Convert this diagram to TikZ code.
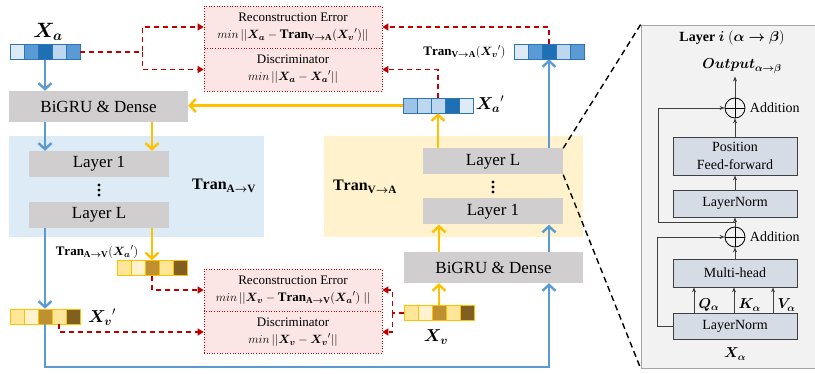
\documentclass[tikz,border=0pt]{standalone}
\usepackage{amsmath,bm}
\usepackage{fontspec}
\setmainfont{Liberation Serif}
\usetikzlibrary{arrows.meta,positioning,calc}
\definecolor{bluereg}{HTML}{DDEBF7}
\definecolor{yelreg}{HTML}{FFF2CC}
\definecolor{boxgrey}{HTML}{D0CECE}
\definecolor{arrblue}{HTML}{5B9BD5}
\definecolor{arryel}{HTML}{FFC000}
\definecolor{errred}{HTML}{C00000}
\definecolor{errpink}{HTML}{FBE5E5}
\definecolor{bA}{HTML}{DEEBF7}
\definecolor{bB}{HTML}{BDD7EE}
\definecolor{bC}{HTML}{9DC3E6}
\definecolor{bD}{HTML}{5B9BD5}
\definecolor{bE}{HTML}{1F6FB5}
\definecolor{bedge}{HTML}{2E75B6}
\definecolor{yA}{HTML}{FFF2CC}
\definecolor{yB}{HTML}{FFE699}
\definecolor{yC}{HTML}{BF9030}
\definecolor{yD}{HTML}{7F6020}
\definecolor{yedge}{HTML}{FFC000}
\definecolor{panelfill}{HTML}{F2F2F2}
\definecolor{panelgrey}{HTML}{A6A6A6}
\definecolor{unitfill}{HTML}{D6DCE5}
\definecolor{unitedge}{HTML}{404040}
\newcommand{\Xa}{\bm{X}_{\bm{a}}}
\newcommand{\Xv}{\bm{X}_{\bm{v}}}
\newcommand{\TrVA}{\mathbf{Tran}_{\mathbf{V}\bm{\rightarrow}\mathbf{A}}}
\newcommand{\TrAV}{\mathbf{Tran}_{\mathbf{A}\bm{\rightarrow}\mathbf{V}}}
\tikzset{bigru/.style={fill=boxgrey,minimum width=179,minimum height=31,inner sep=0pt,font=\fontsize{17}{20}\selectfont},
 layer/.style={fill=boxgrey,minimum width=140,minimum height=26,inner sep=0pt,font=\fontsize{17}{20}\selectfont},
 region/.style={inner sep=0pt},
 errbox/.style={draw=errred,dotted,line width=0.6pt,fill=errpink,minimum width=178,inner sep=0pt,align=center,font=\fontsize{13}{17}\selectfont},
 bcell/.style={draw=bedge,line width=0.6pt,minimum width=14,minimum height=15,inner sep=0pt},
 ycell/.style={draw=yedge,line width=0.6pt,minimum width=14,minimum height=15,inner sep=0pt},
 bluearrow/.style={draw=arrblue,line width=2.4pt,-{Straight Barb[length=6pt,width=13pt]}},
 yelarrow/.style={draw=arryel,line width=2.4pt,-{Straight Barb[length=6pt,width=13pt]}},
 redarrow/.style={draw=errred,line width=1.3pt,dash pattern=on 5pt off 4pt,-{Triangle[length=6pt,width=7pt]}},
 zoomline/.style={draw=black,line width=1.4pt,dash pattern=on 6pt off 4pt},
 panel/.style={draw=panelgrey,line width=0.8pt,fill=panelfill,minimum width=181,minimum height=343,inner sep=0pt},
 unit/.style={draw=unitedge,line width=0.8pt,fill=unitfill,minimum width=124,inner sep=0pt,align=center,font=\fontsize{14}{18}\selectfont},
 addnode/.style={circle,draw=black,line width=0.8pt,minimum size=20,inner sep=0pt},
 flow/.style={draw=black!75,line width=0.7pt,-{Stealth[length=5pt,width=4pt]}},
 lbl/.style={font=\fontsize{14}{17}\selectfont}}
\begin{document}
\begin{tikzpicture}[x=1pt,y=-1pt]
\useasboundingbox (0,0) rectangle (815,374);
\node[region,fill=bluereg,minimum width=255,minimum height=101] (regA) at (136.5,186.5) {};
\node[region,fill=yelreg,minimum width=259,minimum height=101] (regV) at (453.5,186.5) {};
\node[panel] (panel) at (731.5,196.5) {};

\node[bigru] (bgA) at (98.5,106.5) {BiGRU \& Dense};
\node[layer] (l1A) at (99,164) {Layer 1};
\coordinate (dA) at (99,190);
\node[layer] (lLA) at (99,215) {Layer L};
\node[font=\fontsize{16}{19}\selectfont] (tAV) at (224,186) {$\TrAV$};

\node[layer] (lLV) at (493,161.5) {Layer L};
\coordinate (dV) at (493,187);
\node[layer] (l1V) at (493,211.5) {Layer 1};
\node[font=\fontsize{16}{19}\selectfont] (tVA) at (365,187) {$\TrVA$};
\node[bigru] (bgV) at (493.5,267.5) {BiGRU \& Dense};
\foreach \dy in {-5,0,5} {
  \fill ([yshift=\dy]dA) circle (1.7);
  \fill ([yshift=\dy]dV) circle (1.7);
}

\node[errbox,minimum height=42] (errA) at (293,27) {Reconstruction Error\\$min\,||\Xa - \TrVA({\Xv}')||$};
\node[errbox,minimum height=43] (discA) at (293,69.5) {Discriminator\\$min\,||\Xa - {\Xa}'||$};
\node[errbox,minimum height=42] (errV) at (293,290) {Reconstruction Error\\$min\,||\Xv - \TrAV({\Xa}')\;||$};
\node[errbox,minimum height=42] (discV) at (293,332) {Discriminator\\$min\,||\Xv - {\Xv}'||$};

\foreach \c [count=\i] in {bA,bD,bE,bB,bD}
  \node[bcell,fill=\c] (xa\i) at ({3+14*\i},52) {};
\foreach \c [count=\i] in {bA,bD,bE,bB,bD}
  \node[bcell,fill=\c] (tv\i) at ({507+14*\i},51.5) {};
\foreach \c [count=\i] in {bC,bB,bB,bE,bA}
  \node[bcell,fill=\c] (xap\i) at ({396+14*\i},105.5) {};
\foreach \c [count=\i] in {yB,yA,yC,yB,yD}
  \node[ycell,fill=\c] (tav\i) at ({110+14*\i},268) {};
\foreach \c [count=\i] in {yB,yA,yC,yB,yD}
  \node[ycell,fill=\c] (xvp\i) at ({3+14*\i},316.5) {};
\foreach \c [count=\i] in {yB,yA,yC,yB,yD}
  \node[ycell,fill=\c] (xv\i) at ({397+14*\i},313) {};

\node[font=\fontsize{20}{24}\selectfont] (xal) at (48,32) {$\Xa$};
\node[anchor=east,font=\fontsize{13}{16}\selectfont] (tvl) at (509,52) {$\TrVA({\Xv}')$};
\node[font=\fontsize{18}{22}\selectfont] (xapl) at (490,104) {${\Xa}'$};
\node[font=\fontsize{13}{16}\selectfont] (tavl) at (97,252) {$\TrAV({\Xa}')$};
\node[font=\fontsize{18}{22}\selectfont] (xvpl) at (102,317) {${\Xv}'$};
\node[font=\fontsize{18}{22}\selectfont] (xvl) at (436,337) {$\Xv$};

\coordinate (loopy) at (0,367);
\draw[bluearrow] (xa3.south) -- (xa3.south |- bgA.north);
\draw[bluearrow] (bgA.south -| xa3) -- (l1A.north -| xa3);
\draw[yelarrow] (bgA.south -| tav3) -- (l1A.north -| tav3);
\draw[yelarrow] (lLA.south -| tav3) -- (tav3.north);
\draw[bluearrow] (lLA.south -| xvp3) -- (xvp3.north);
\draw[bluearrow] (xvp3.south) -- (xvp3.south |- loopy) -| (bgV.south -| tv3);
\draw[yelarrow] (xv3.north) -- (xv3.north |- bgV.south);
\draw[yelarrow] (bgV.north -| xv3) -- (l1V.south -| xv3);
\draw[bluearrow] (bgV.north -| tv3) -- (l1V.south -| tv3);
\draw[yelarrow] (lLV.north -| xap3) -- (xap3.south);
\draw[bluearrow] (lLV.north -| tv3) -- (tv3.south);
\draw[yelarrow] (xap1.west) -- (xap1.west -| bgA.east);

\draw[redarrow] (xa5.east) -- ++(62,0) |- (errA.west);
\draw[redarrow] (xa5.east) ++(62,0) |- (discA.west);
\draw[redarrow] (tv3.north) |- (errA.east);
\draw[redarrow] (xap3.north) |- (discA.east);
\draw[redarrow] (tav3.south) |- (errV.west);
\draw[redarrow] (xvp4.south) |- (discV.west);
\draw[redarrow] (xv1.west) -- ++(-11,0) |- (errV.east);
\draw[redarrow] (xv1.west) ++(-11,0) |- (discV.east);

\draw[zoomline] (lLV.north east) -- (panel.north west);
\draw[zoomline] (lLV.south east) -- (panel.south west);

\node[font=\bfseries\fontsize{14}{17}\selectfont] (ptitle) at (732,38) {Layer $\bm{i}$ $(\bm{\alpha\rightarrow\beta})$};
\node[lbl] (pout) at (742,66) {$\bm{Output}_{\bm{\alpha\rightarrow\beta}}$};
\node[addnode] (add1) at (735,108) {};
\node[lbl,right=1pt of add1] (addl1) {Addition};
\node[unit,minimum height=38] (ff) at (735,156) {Position\\Feed-forward};
\node[unit,minimum height=27] (ln2) at (735,203.5) {LayerNorm};
\node[addnode] (add2) at (735,237) {};
\node[lbl,right=1pt of add2] (addl2) {Addition};
\node[unit,minimum height=28] (mh) at (735,273) {Multi-head};
\node[unit,minimum height=26] (ln1) at (735,326) {LayerNorm};
\node[lbl] (xalpha) at (735,354) {$\bm{X}_{\bm{\alpha}}$};
\draw[line width=0.8pt] (add1.north) -- (add1.south) (add1.west) -- (add1.east);
\draw[line width=0.8pt] (add2.north) -- (add2.south) (add2.west) -- (add2.east);

\foreach \q/\dx in {Q/-41,K/-1,V/38}
  \draw[flow] ([xshift=\dx]ln1.north) -- ([xshift=\dx]mh.south) node[lbl,pos=0.3,right=1pt] {$\bm{\q}_{\bm{\alpha}}$};
\draw[flow] (mh.north) -- (add2.south);
\draw[flow] (add2.north) -- (ln2.south);
\draw[flow] (ln2.north) -- (ff.south);
\draw[flow] (ff.north) -- (add1.south);
\draw[flow] (add1.north) -- (add1.north |- pout.south);
\coordinate (tap) at ($(ln2.south)!0.5!(add2.north)$);
\draw[flow] (ln1.west) -- ++(-15,0) |- (add2.west);
\draw[flow] (tap) -- ++(-77,0) |- (add1.west);
\end{tikzpicture}
\end{document}
